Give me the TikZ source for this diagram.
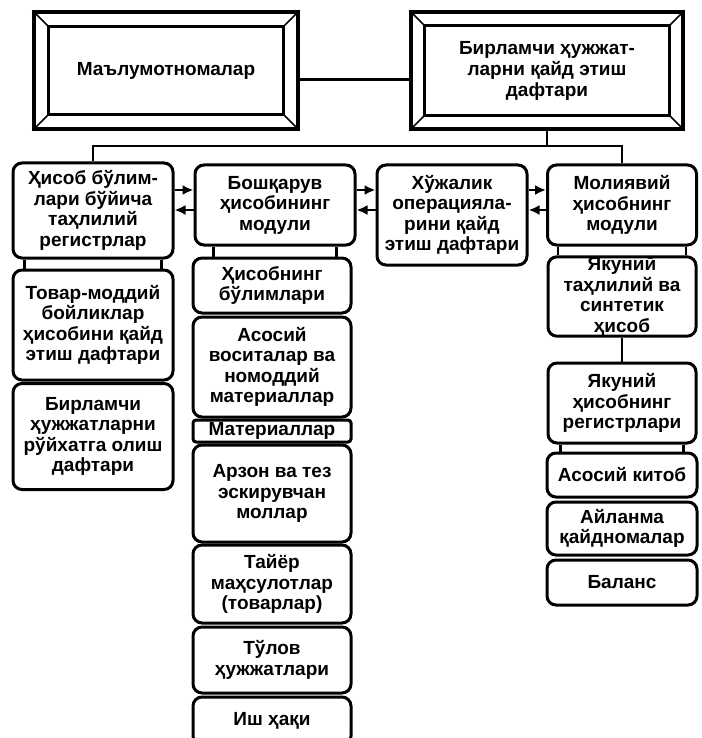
\documentclass[tikz,border=0pt]{standalone}
\usepackage{fontspec}
\setmainfont{Liberation Sans}
\usetikzlibrary{arrows.meta}
\newcommand\bevel[2]{%
  \draw [line width=2.6pt] ([shift={(#2,-#2)}]#1.north west) rectangle ([shift={(-#2,#2)}]#1.south east);
  \draw [line width=1.6pt] (#1.north west) -- ([shift={(#2,-#2)}]#1.north west);
  \draw [line width=1.6pt] (#1.north east) -- ([shift={(-#2,-#2)}]#1.north east);
  \draw [line width=1.6pt] (#1.south west) -- ([shift={(#2,#2)}]#1.south west);
  \draw [line width=1.6pt] (#1.south east) -- ([shift={(-#2,#2)}]#1.south east);
}
\begin{document}
\begin{tikzpicture}[x=1pt,y=1pt,
  box/.style={draw, line width=3pt, rounded corners=9pt, align=center, inner sep=0pt,
    font=\bfseries\fontsize{19}{20.5}\selectfont},
  frame/.style={draw, line width=3.4pt, align=center, inner sep=0pt,
    font=\bfseries\fontsize{19}{21}\selectfont},
  link/.style={line width=2.4pt},
  flow/.style={line width=2.4pt, -{Latex[length=11pt,width=10pt]}}]
\useasboundingbox (0,0) rectangle (701,-738);
\node [frame, minimum width=264pt, minimum height=117pt] (mal) at (166,-70.5) {Маълумотномалар};
\node [frame, minimum width=272pt, minimum height=117pt] (birl) at (547,-70.5) {Бирламчи ҳужжат-\\ларни қайд этиш\\дафтари};
\bevel{mal}{16}
\bevel{birl}{15}
\node [box, minimum width=160pt, minimum height=95pt] (hisob) at (93,-210.5) {Ҳисоб бўлим-\\лари бўйича\\таҳлилий\\регистрлар};
\node [box, minimum width=160pt, minimum height=110pt] (tovar) at (93,-325) {Товар-моддий\\бойликлар\\ҳисобини қайд\\этиш дафтари};
\node [box, minimum width=160pt, minimum height=106pt] (royxat) at (93,-436.5) {Бирламчи\\ҳужжатларни\\рўйхатга олиш\\дафтари};
\node [box, minimum width=160pt, minimum height=80pt] (boshq) at (275,-205) {Бошқарув\\ҳисобининг\\модули};
\node [box, minimum width=158pt, minimum height=55pt] (bolim) at (272,-285.5) {Ҳисобнинг\\бўлимлари};
\node [box, minimum width=158pt, minimum height=100pt] (asos) at (272,-367) {Асосий\\воситалар ва\\номоддий\\материаллар};
\node [box, rounded corners=3pt, minimum width=158pt, minimum height=22pt] (mat) at (272,-431) {Материаллар};
\node [box, minimum width=158pt, minimum height=97pt] (arzon) at (272,-493.5) {Арзон ва тез\\эскирувчан\\моллар};
\node [box, minimum width=158pt, minimum height=78pt] (tayer) at (272,-584) {Тайёр\\маҳсулотлар\\(товарлар)};
\node [box, minimum width=158pt, minimum height=66pt] (tulov) at (272,-660) {Тўлов\\ҳужжатлари};
\node [box, minimum width=158pt, minimum height=48pt] (ish) at (272,-721) {Иш ҳақи};
\node [box, minimum width=150pt, minimum height=100pt] (xujal) at (452,-215) {Хўжалик\\операцияла-\\рини қайд\\этиш дафтари};
\node [box, minimum width=149pt, minimum height=80pt] (moliya) at (622,-205) {Молиявий\\ҳисобнинг\\модули};
\node [box, minimum width=148pt, minimum height=77pt] (yakun) at (622,-296.5) {Якуний\\таҳлилий ва\\синтетик\\ҳисоб};
\node [box, minimum width=148pt, minimum height=80pt] (regist) at (622,-403) {Якуний\\ҳисобнинг\\регистрлари};
\node [box, minimum width=150pt, minimum height=44pt] (kitob) at (622,-475) {Асосий китоб};
\node [box, minimum width=150pt, minimum height=53pt] (aylan) at (622,-528.5) {Айланма\\қайдномалар};
\node [box, minimum width=150pt, minimum height=45pt] (balans) at (622,-582.5) {Баланс};
\coordinate (bus) at (547,-146);
\coordinate (up) at (0,-190);
\coordinate (dn) at (0,-210);
\draw [link] ([yshift=-9pt]mal.east) -- ([yshift=-9pt]birl.west);
\draw [link] (birl.south) -- (bus);
\draw [link] (hisob.north) |- (bus) -| (moliya.north);
\foreach \a/\b in {hisob/boshq, boshq/xujal, xujal/moliya} {
  \draw [flow] (\a.east |- up) -- (\b.west |- up);
  \draw [flow] (\b.west |- dn) -- (\a.east |- dn);
}
\foreach \a/\b/\d in {hisob/tovar/13, boshq/bolim/20, moliya/yakun/12, regist/kitob/14} {
  \draw [link] ([xshift=\d pt]\a.south west) -- ([xshift=\d pt]\a.south west |- \b.north);
  \draw [link] ([xshift=-\d pt]\a.south east) -- ([xshift=-\d pt]\a.south east |- \b.north);
}
\draw [link] (yakun.south) -- (regist.north);
\end{tikzpicture}
\end{document}
